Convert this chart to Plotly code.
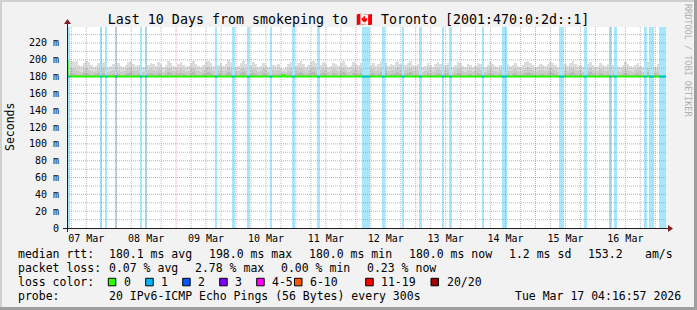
import plotly.graph_objects as go
from datetime import datetime, timedelta

# ---------------- data ----------------
TITLE = "Last 10 Days from smokeping to \U0001F1E8\U0001F1E6 Toronto [2001:470:0:2d::1]"
T_START = "2026-03-07 04:16:57"
T_END = "2026-03-17 04:16:57"
FIRST_BIN = "2026-03-07 04:00:00"   # centre of first hourly bin
Y_MAX_MS = 239.0

day_labels = ["07 Mar", "08 Mar", "09 Mar", "10 Mar", "11 Mar",
              "12 Mar", "13 Mar", "14 Mar", "15 Mar", "16 Mar"]
y_tick_vals = [0, 20, 40, 60, 80, 100, 120, 140, 160, 180, 200, 220]
y_tick_text = ["0", "20 m", "40 m", "60 m", "80 m", "100 m", "120 m",
               "140 m", "160 m", "180 m", "200 m", "220 m"]

# hourly median rtt (ms)
median_ms = [
    198.0, 180.1, 180.1, 180.1, 180.1, 180.1, 180.1, 180.1, 180.1, 180.1, 180.1, 180.1,
    180.1, 180.1, 180.1, 180.1, 180.1, 180.1, 180.1, 180.1, 180.1, 180.1, 180.1, 180.1,
    180.1, 180.1, 180.1, 180.1, 180.1, 180.1, 180.1, 180.1, 180.1, 180.1, 180.1, 180.1,
    180.1, 180.1, 180.1, 180.1, 180.1, 180.1, 180.1, 180.1, 180.1, 180.1, 180.1, 180.1,
    180.1, 180.1, 180.1, 180.1, 180.1, 180.1, 180.1, 180.1, 180.1, 180.1, 180.1, 180.1,
    180.1, 180.1, 180.1, 180.1, 180.1, 180.1, 180.1, 180.1, 180.1, 180.1, 180.1, 180.1,
    180.1, 180.1, 180.1, 180.1, 180.1, 180.1, 180.1, 180.1, 180.1, 180.1, 180.1, 180.1,
    180.1, 180.1, 180.1, 182.0, 180.1, 180.1, 180.1, 180.1, 180.1, 180.1, 180.1, 180.1,
    180.1, 180.1, 180.1, 180.1, 180.1, 180.1, 180.1, 180.1, 180.1, 180.1, 180.1, 180.1,
    180.1, 180.1, 180.1, 180.1, 180.1, 180.1, 180.1, 180.1, 180.1, 180.1, 180.1, 180.1,
    180.1, 180.1, 180.1, 180.1, 180.1, 180.1, 180.1, 180.1, 180.1, 180.1, 180.1, 180.1,
    180.1, 180.1, 180.1, 180.1, 180.1, 180.1, 180.1, 180.1, 180.1, 180.1, 180.1, 180.1,
    180.1, 180.1, 180.1, 180.1, 180.1, 180.1, 180.1, 180.1, 180.1, 180.1, 180.1, 180.1,
    180.1, 180.1, 180.1, 180.1, 180.1, 180.1, 180.1, 180.1, 180.1, 180.1, 180.1, 180.1,
    180.1, 180.1, 180.1, 180.1, 180.1, 180.1, 180.1, 180.1, 180.1, 180.1, 180.1, 180.1,
    180.1, 180.1, 180.1, 180.1, 180.1, 180.1, 180.1, 180.1, 180.1, 180.1, 180.1, 180.1,
    180.1, 180.1, 180.1, 180.1, 180.1, 180.1, 180.1, 180.1, 180.1, 180.1, 180.1, 180.1,
    180.1, 180.1, 180.1, 180.1, 180.1, 180.1, 180.1, 180.1, 180.1, 180.1, 180.1, 180.1,
    180.1, 180.1, 180.1, 180.1, 180.1, 180.1, 180.1, 180.1, 180.1, 180.1, 180.1, 180.1,
    180.1, 180.1, 180.1, 180.1, 180.1, 180.1, 180.1, 180.1, 180.1, 180.1, 180.1, 180.1,
    180.1,
]

# smoke envelopes (ms): outer (lightest), middle, inner (darkest)
smoke_outer_ms = [
    215, 196, 198, 197, 199, 194, 193, 196, 198, 197, 194, 192,
    193, 196, 195, 197, 195, 192, 193, 195, 197, 196, 193, 192,
    194, 197, 199, 195, 193, 194, 196, 192, 191, 194, 196, 195,
    193, 197, 195, 192, 194, 198, 196, 193, 192, 195, 197, 194,
    192, 193, 196, 198, 195, 193, 191, 194, 197, 199, 196, 193,
    192, 194, 196, 193, 195, 200, 197, 194, 192, 193, 196, 198,
    195, 193, 194, 197, 195, 192, 193, 196, 194, 191, 192, 194,
    193, 195, 190, 189, 192, 195, 197, 194, 193, 196, 198, 195,
    192, 194, 197, 199, 196, 193, 194, 197, 195, 192, 193, 196,
    195, 193, 196, 198, 194, 192, 193, 197, 195, 194, 196, 199,
    201, 197, 194, 196, 193, 195, 198, 200, 196, 193, 195, 194,
    197, 199, 195, 192, 194, 196, 198, 194, 193, 195, 192, 191,
    193, 196, 194, 192, 195, 197, 195, 193, 194, 196, 193, 192,
    194, 197, 196, 193, 192, 195, 194, 192, 193, 196, 195, 193,
    192, 194, 197, 195, 193, 192, 194, 196, 198, 195, 193, 194,
    196, 193, 192, 194, 197, 199, 196, 194, 192, 193, 195, 194,
    193, 195, 197, 196, 194, 192, 194, 197, 195, 193, 196, 198,
    195, 193, 194, 192, 193, 195, 197, 194, 192, 193, 196, 194,
    193, 195, 192, 194, 196, 193, 192, 194, 197, 195, 193, 192,
    194, 196, 193, 192, 195, 197, 194, 193, 192, 195, 194, 193,
    193,
]
smoke_middle_ms = [
    208, 188, 190, 189, 188, 187, 186, 189, 190, 188, 187, 186,
    187, 189, 188, 190, 188, 186, 187, 188, 189, 188, 186, 187,
    188, 190, 191, 188, 187, 188, 189, 186, 186, 188, 189, 188,
    187, 189, 188, 186, 188, 190, 189, 187, 186, 188, 190, 188,
    186, 187, 189, 190, 188, 187, 186, 188, 189, 191, 189, 187,
    186, 188, 189, 187, 188, 191, 189, 188, 186, 187, 189, 190,
    188, 187, 188, 189, 188, 186, 187, 189, 188, 186, 186, 188,
    187, 188, 186, 185, 186, 188, 190, 188, 187, 189, 190, 188,
    186, 188, 189, 191, 189, 187, 188, 189, 188, 186, 187, 189,
    188, 187, 189, 190, 188, 186, 187, 189, 188, 188, 189, 191,
    192, 189, 188, 189, 187, 188, 190, 191, 189, 187, 188, 188,
    189, 191, 188, 186, 188, 189, 190, 188, 187, 188, 186, 186,
    187, 189, 188, 186, 188, 189, 188, 187, 188, 189, 187, 186,
    188, 189, 189, 187, 186, 188, 188, 186, 187, 189, 188, 187,
    186, 188, 189, 188, 187, 186, 188, 189, 190, 188, 187, 188,
    189, 187, 186, 188, 189, 191, 189, 188, 186, 187, 188, 188,
    187, 188, 190, 189, 188, 186, 188, 189, 188, 187, 189, 190,
    188, 187, 188, 186, 187, 188, 190, 188, 186, 187, 189, 188,
    187, 188, 186, 188, 189, 187, 186, 188, 189, 188, 187, 186,
    188, 189, 187, 186, 188, 190, 188, 187, 186, 188, 188, 187,
    187,
]
smoke_inner_ms = [
    200, 183, 184, 183, 183, 182, 182, 184, 184, 183, 182, 182,
    183, 184, 183, 184, 183, 182, 182, 183, 184, 183, 182, 182,
    183, 184, 185, 183, 182, 183, 184, 182, 182, 183, 184, 183,
    182, 184, 183, 182, 183, 185, 184, 182, 182, 183, 184, 183,
    182, 182, 184, 185, 183, 182, 182, 183, 184, 185, 184, 182,
    182, 183, 184, 182, 183, 185, 184, 183, 182, 182, 184, 185,
    183, 182, 183, 184, 183, 182, 182, 184, 183, 182, 182, 183,
    182, 183, 182, 181, 182, 183, 185, 183, 182, 184, 185, 183,
    182, 183, 184, 185, 184, 182, 183, 184, 183, 182, 182, 184,
    183, 182, 184, 185, 183, 182, 182, 184, 183, 183, 184, 185,
    186, 184, 183, 184, 182, 183, 185, 186, 184, 182, 183, 183,
    184, 185, 183, 182, 183, 184, 185, 183, 182, 183, 182, 182,
    182, 184, 183, 182, 183, 184, 183, 182, 183, 184, 182, 182,
    183, 184, 184, 182, 182, 183, 183, 182, 182, 184, 183, 182,
    182, 183, 184, 183, 182, 182, 183, 184, 185, 183, 182, 183,
    184, 182, 182, 183, 184, 185, 184, 183, 182, 182, 183, 183,
    182, 183, 185, 184, 183, 182, 183, 184, 183, 182, 184, 185,
    183, 182, 183, 182, 182, 183, 185, 183, 182, 182, 184, 183,
    182, 183, 182, 183, 184, 182, 182, 183, 184, 183, 182, 182,
    183, 184, 182, 182, 183, 185, 183, 182, 182, 183, 183, 182,
    182,
]
# hourly bins in which 1 of 20 pings was lost
loss_bins = [0, 1, 14, 16, 20, 30, 32, 60, 67, 73, 82, 91, 101, 119, 120, 121,
             127, 135, 142, 151, 154, 167, 175, 176, 198, 199, 208, 218, 220,
             232, 234, 235, 238, 239, 240]

legend_rows = [
    [("median rtt:", 16), ("180.1 ms avg", 107.3), ("198.0 ms max", 207),
     ("180.0 ms min", 306.6), ("180.0 ms now", 406.5), ("1.2 ms sd", 507),
     ("153.2", 586), ("am/s", 642.7)],
    [("packet loss:", 16), ("0.07 % avg", 107.3), ("2.78 % max", 193),
     ("0.00 % min", 279), ("0.23 % now", 365)],
    [("loss color:", 16)],
    [("probe:", 16), ("20 IPv6-ICMP Echo Pings (56 Bytes) every 300s", 107.3),
     ("Tue Mar 17 04:16:57 2026", 513.3)],
]
loss_color_labels = ["0", "1", "2", "3", "4-5", "6-10", "11-19", "20/20"]
loss_color_values = ["#26ff00", "#00b8ff", "#0059ff", "#7e00ff",
                     "#ff00ff", "#ff5500", "#ff0000", "#a00000"]
loss_color_box_x = [108.3, 145.7, 182.7, 219.7, 256.7, 294.5, 365.7, 431]

# ---------------- layout geometry ----------------
W, H = 697, 310
PL, PR, PT, PB = 67, 666, 27, 228
FONT = "DejaVu Sans Mono"
WIDE_SMOKE_MS = 205   # envelopes reaching above this are drawn in dark shades


def px(x):
    return (x - PL) / (PR - PL)


def py(y):
    return (PB - y) / (PB - PT)


fmt = "%Y-%m-%d %H:%M:%S"
t0 = datetime.strptime(FIRST_BIN, fmt)
HOUR = timedelta(hours=1)
centers = [t0 + i * HOUR for i in range(len(median_ms))]

fig = go.Figure()

# smoke
for env, col in [(smoke_outer_ms, "#dcdcdc"), (smoke_middle_ms, "#cbcbcb"),
                 (smoke_inner_ms, "#b8b8b8")]:
    fig.add_trace(go.Bar(
        x=centers, y=[e - m for e, m in zip(env, median_ms)], base=median_ms,
        width=3600 * 1000, marker=dict(color=col, line=dict(width=0)),
        hoverinfo="skip", showlegend=False))

# loss background bars
fig.add_trace(go.Bar(
    x=[centers[i] for i in loss_bins], y=[Y_MAX_MS] * len(loss_bins), base=0,
    width=3600 * 1000, marker=dict(color="#a8e6fc", line=dict(width=0)),
    hoverinfo="skip", showlegend=False))

# wide-spread (dark) smoke drawn over the loss background
wide = [i for i, o in enumerate(smoke_outer_ms) if o > WIDE_SMOKE_MS]
for env, col in [(smoke_outer_ms, "#8c8c8c"), (smoke_middle_ms, "#505050"),
                 (smoke_inner_ms, "#2a2a2a")]:
    fig.add_trace(go.Bar(
        x=[centers[i] for i in wide], y=[env[i] - 180.0 for i in wide], base=180.0,
        width=3600 * 1000, marker=dict(color=col, line=dict(width=0)),
        hoverinfo="skip", showlegend=False))

# median line (step)
xs = [c - HOUR / 2 for c in centers] + [centers[-1] + HOUR / 2]
ys = median_ms + [median_ms[-1]]
fig.add_trace(go.Scatter(x=xs, y=ys, mode="lines", line=dict(color="#26ff00", width=2, shape="hv"),
                         hoverinfo="skip", showlegend=False))
bx, by = [], []
for i in loss_bins:
    bx += [centers[i] - HOUR / 2, centers[i] + HOUR / 2, None]
    by += [median_ms[i], median_ms[i], None]
fig.add_trace(go.Scatter(x=bx, y=by, mode="lines", line=dict(color="#00b8ff", width=2),
                         hoverinfo="skip", showlegend=False))

shapes = []
# grid on top (rrdtool style dotted)
ts = datetime.strptime(T_START, fmt)
te = datetime.strptime(T_END, fmt)
g = datetime(ts.year, ts.month, ts.day) + timedelta(hours=6)
minor_v, major_v = [], []
while g < te:
    if g > ts:
        (major_v if g.hour == 0 else minor_v).append(g)
    g += timedelta(hours=6)
GRID = "rgba(143,143,143,0.6)"
MGRID = "rgba(222,79,79,0.55)"
for g in minor_v:
    shapes.append(dict(type="line", xref="x", yref="y", x0=g, x1=g, y0=0, y1=Y_MAX_MS,
                       line=dict(color=GRID, width=1, dash="1px,1px"), layer="above"))
for v in range(10, 240, 20):
    shapes.append(dict(type="line", xref="x", yref="y", x0=ts, x1=te, y0=v, y1=v,
                       line=dict(color=GRID, width=1, dash="1px,1px"), layer="above"))
for g in major_v:
    shapes.append(dict(type="line", xref="x", yref="y", x0=g, x1=g, y0=0, y1=Y_MAX_MS,
                       line=dict(color=MGRID, width=1, dash="1px,1px"), layer="above"))
for v in range(20, 240, 20):
    shapes.append(dict(type="line", xref="x", yref="y", x0=ts, x1=te, y0=v, y1=v,
                       line=dict(color=MGRID, width=1, dash="1px,1px"), layer="above"))

# axes lines + arrows
AX = "#1f1f1f"
ARROW = "#801f1f"
shapes.append(dict(type="line", xref="paper", yref="paper", x0=px(63), x1=px(669),
                   y0=py(228.5), y1=py(228.5), line=dict(color=AX, width=1), layer="above"))
shapes.append(dict(type="line", xref="paper", yref="paper", x0=px(67.5), x1=px(67.5),
                   y0=py(232), y1=py(22), line=dict(color=AX, width=1), layer="above"))
shapes.append(dict(type="path", xref="paper", yref="paper",
                   path=f"M {px(668)} {py(225)} L {px(673)} {py(228.5)} L {px(668)} {py(232)} Z",
                   fillcolor=ARROW, line=dict(color=ARROW, width=0), layer="above"))
shapes.append(dict(type="path", xref="paper", yref="paper",
                   path=f"M {px(64)} {py(24)} L {px(67.5)} {py(19)} L {px(71)} {py(24)} Z",
                   fillcolor=ARROW, line=dict(color=ARROW, width=0), layer="above"))

# frame 3D border
shapes.append(dict(type="rect", xref="paper", yref="paper", x0=px(0), x1=px(697), y0=py(0), y1=py(2),
                   fillcolor="#cfcfcf", line=dict(width=0), layer="above"))
shapes.append(dict(type="rect", xref="paper", yref="paper", x0=px(0), x1=px(2), y0=py(0), y1=py(310),
                   fillcolor="#cfcfcf", line=dict(width=0), layer="above"))
shapes.append(dict(type="rect", xref="paper", yref="paper", x0=px(0), x1=px(697), y0=py(307), y1=py(310),
                   fillcolor="#9e9e9e", line=dict(width=0), layer="above"))
shapes.append(dict(type="rect", xref="paper", yref="paper", x0=px(694), x1=px(697), y0=py(0), y1=py(310),
                   fillcolor="#9e9e9e", line=dict(width=0), layer="above"))

annotations = []
LEG_Y = [254, 268, 282, 296]
for row, yy in zip(legend_rows, LEG_Y):
    for txt, xx in row:
        annotations.append(dict(text=txt, x=px(xx), y=py(yy), xref="paper", yref="paper",
                                xanchor="left", yanchor="middle", showarrow=False,
                                font=dict(family=FONT, size=11.5, color="#000000")))
for lab, col, bxp in zip(loss_color_labels, loss_color_values, loss_color_box_x):
    shapes.append(dict(type="rect", xref="paper", yref="paper", x0=px(bxp), x1=px(bxp + 7.5),
                       y0=py(278.3), y1=py(285.8), fillcolor=col,
                       line=dict(color="#000000", width=1), layer="above"))
    annotations.append(dict(text=lab, x=px(bxp + 13.5), y=py(282), xref="paper", yref="paper",
                            xanchor="left", yanchor="middle", showarrow=False,
                            font=dict(family=FONT, size=11.5, color="#000000")))

annotations.append(dict(text="Seconds", x=px(10), y=py(127), xref="paper", yref="paper",
                        textangle=-90, showarrow=False, xanchor="center", yanchor="middle",
                        font=dict(family=FONT, size=11.5, color="#000000")))
annotations.append(dict(text="RRDTOOL / TOBI OETIKER", x=px(688), y=py(60), xref="paper", yref="paper",
                        textangle=90, showarrow=False, xanchor="center", yanchor="middle",
                        font=dict(family=FONT, size=8.5, color="#b0b0b0")))

noon = [datetime(2026, 3, 7, 12) + timedelta(days=k) for k in range(len(day_labels))]

fig.update_layout(
    width=W, height=H,
    margin=dict(l=PL, r=W - PR, t=PT, b=H - PB, pad=0),
    paper_bgcolor="#f2f2f2", plot_bgcolor="#ffffff",
    barmode="overlay", bargap=0,
    title=dict(text=TITLE, x=0.5, xref="container", xanchor="center",
               y=1 - 19.5 / H, yref="container", yanchor="middle",
               font=dict(family=FONT, size=13.3, color="#000000")),
    xaxis=dict(type="date", range=[ts, te], tickvals=noon, ticktext=day_labels,
               showgrid=False, zeroline=False, showline=False, ticks="",
               ticklabelstandoff=3,
               tickfont=dict(family=FONT, size=10, color="#000000")),
    yaxis=dict(range=[0, Y_MAX_MS], tickvals=y_tick_vals, ticktext=y_tick_text,
               showgrid=False, zeroline=False, showline=False, ticks="",
               ticklabelstandoff=7,
               tickfont=dict(family=FONT, size=10, color="#000000")),
    shapes=shapes, annotations=annotations,
)

fig.write_html("out.html")
